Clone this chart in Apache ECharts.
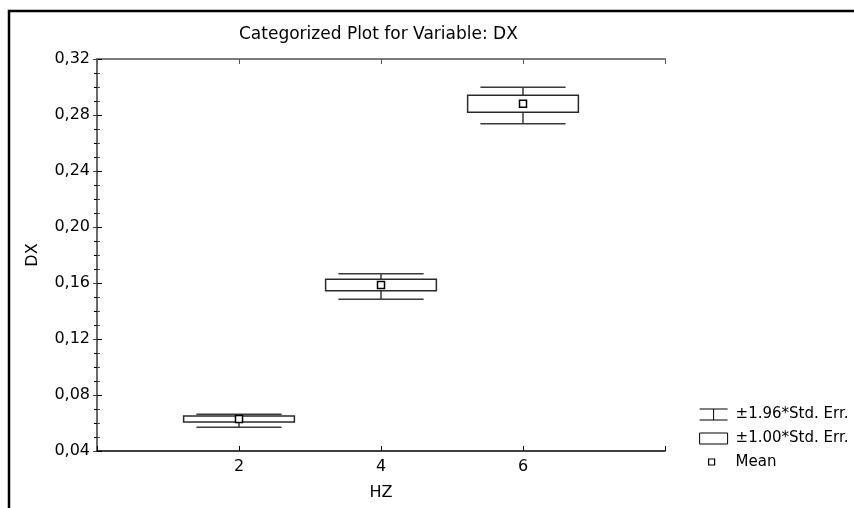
<!DOCTYPE html>
<html>
<head>
<meta charset="utf-8">
<script src="https://cdn.jsdelivr.net/npm/echarts@6/dist/echarts.min.js"></script>
<style>
  html, body { margin: 0; padding: 0; background: #fff; }
  #chart { width: 854px; height: 508px; }
</style>
</head>
<body>
<div id="chart"></div>
<script>
  // values
  var hz = [2, 4, 6];
  var meanDX = [0.0629, 0.1586, 0.2880];
  var se100Low = [0.0607, 0.1545, 0.2819];
  var se100High = [0.0650, 0.1626, 0.2941];
  var se196Low = [0.0569, 0.1484, 0.2738];
  var se196High = [0.0663, 0.1666, 0.2998];
  var yTicks = [0.04, 0.08, 0.12, 0.16, 0.20, 0.24, 0.28, 0.32];
  var xTicks = [2, 4, 6];

  var boxHalf = 0.78;
  var whiskerHalf = 0.6;
  var font = 'DejaVu Sans';

  var chartDom = document.getElementById('chart');
  var myChart = echarts.init(chartDom);

  function fmtY(v) {
    return v.toFixed(2).replace('.', ',');
  }

  function renderWhisker(params, api) {
    var x = api.value(0);
    var lo = api.coord([x, api.value(1)])[1];
    var hi = api.coord([x, api.value(2)])[1];
    var bLo = api.coord([x, api.value(3)])[1];
    var bHi = api.coord([x, api.value(4)])[1];
    var cx = api.coord([x, api.value(1)])[0];
    var l = api.coord([x - whiskerHalf, api.value(1)])[0];
    var r = api.coord([x + whiskerHalf, api.value(1)])[0];
    var st = { stroke: '#3a3a3a', lineWidth: 1.5 };
    return {
      type: 'group',
      children: [
        { type: 'line', shape: { x1: l, y1: hi, x2: r, y2: hi }, style: st },
        { type: 'line', shape: { x1: l, y1: lo, x2: r, y2: lo }, style: st },
        { type: 'line', shape: { x1: cx, y1: hi, x2: cx, y2: bHi }, style: st },
        { type: 'line', shape: { x1: cx, y1: bLo, x2: cx, y2: lo }, style: st }
      ]
    };
  }

  function renderBox(params, api) {
    var x = api.value(0);
    var p1 = api.coord([x - boxHalf, api.value(2)]);
    var p2 = api.coord([x + boxHalf, api.value(1)]);
    return {
      type: 'rect',
      shape: { x: p1[0], y: p1[1], width: p2[0] - p1[0], height: p2[1] - p1[1] },
      style: { fill: '#fff', stroke: '#2a2a2a', lineWidth: 1.5 }
    };
  }

  var whiskerData = hz.map(function (x, i) {
    return [x, se196Low[i], se196High[i], se100Low[i], se100High[i]];
  });
  var boxData = hz.map(function (x, i) {
    return [x, se100Low[i], se100High[i]];
  });
  var meanData = hz.map(function (x, i) {
    return [x, meanDX[i]];
  });

  var option = {
    animation: false,
    backgroundColor: '#fff',
    title: {
      text: 'Categorized Plot for Variable: DX',
      left: 234,
      top: 21,
      textStyle: { fontFamily: font, fontSize: 17, fontWeight: 'normal', color: '#000' }
    },
    graphic: [{
      type: 'rect',
      shape: { x: 9, y: 11, width: 900, height: 600 },
      style: { fill: 'none', stroke: '#000', lineWidth: 2.5 },
      silent: true
    }],
    legend: {
      orient: 'vertical',
      left: 694,
      top: 402,
      itemWidth: 28,
      itemHeight: 11,
      itemGap: 9,
      selectedMode: false,
      textStyle: { fontFamily: font, fontSize: 15, color: '#000', lineHeight: 13, padding: [0, 0, 0, 3] },
      data: [
        {
          name: '±1.96*Std. Err.',
          icon: 'path://M0,0H28M14,0V11M0,11H28',
          itemStyle: { color: '#fff', borderColor: '#000', borderWidth: 1 }
        },
        {
          name: '±1.00*Std. Err.',
          icon: 'path://M0,0H28V11H0Z',
          itemStyle: { color: '#fff', borderColor: '#000', borderWidth: 1 }
        },
        {
          name: 'Mean',
          icon: 'path://M0,0M28,11M9,2H15V8H9Z',
          itemStyle: { color: '#fff', borderColor: '#000', borderWidth: 1.2 }
        }
      ]
    },
    grid: { left: 97, right: 189, top: 59, bottom: 57 },
    xAxis: [
      {
        type: 'value',
        position: 'bottom',
        min: 0,
        max: 8,
        interval: 2,
        name: 'HZ',
        nameLocation: 'middle',
        nameGap: 34,
        nameTextStyle: { fontFamily: font, fontSize: 16, color: '#000' },
        axisLine: { show: true, lineStyle: { color: '#000', width: 1.5 } },
        axisTick: { show: true, inside: true, length: 5, lineStyle: { color: '#000' } },
        axisLabel: {
          margin: 8,
          fontFamily: font, fontSize: 16, color: '#000',
          formatter: function (v) { return xTicks.indexOf(v) >= 0 ? String(v) : ''; }
        },
        splitLine: { show: false }
      },
      {
        type: 'value',
        position: 'top',
        min: 0,
        max: 8,
        interval: 2,
        axisLine: { show: true, lineStyle: { color: '#7a7a7a', width: 2 } },
        axisTick: { show: true, inside: true, length: 5, lineStyle: { color: '#555' } },
        axisLabel: { show: false },
        splitLine: { show: false }
      }
    ],
    yAxis: [
      {
        type: 'value',
        position: 'left',
        min: yTicks[0],
        max: yTicks[yTicks.length - 1],
        interval: 0.04,
        name: 'DX',
        nameLocation: 'middle',
        nameGap: 56,
        nameTextStyle: { fontFamily: font, fontSize: 16, color: '#000' },
        axisLine: { show: true, lineStyle: { color: '#000', width: 1 } },
        axisTick: { show: true, inside: true, length: 5, lineStyle: { color: '#000' } },
        minorTick: { show: true, splitNumber: 4, length: -3, lineStyle: { color: '#000' } },
        axisLabel: { margin: 7, fontFamily: font, fontSize: 16, color: '#000', formatter: fmtY },
        splitLine: { show: false }
      },
      {
        type: 'value',
        position: 'right',
        min: yTicks[0],
        max: yTicks[yTicks.length - 1],
        interval: 0.04,
        axisLine: { show: true, lineStyle: { color: '#6a6a6a', width: 2 } },
        axisTick: { show: true, inside: true, length: 4, lineStyle: { color: '#444' } },
        minorTick: { show: true, splitNumber: 4, length: -3, lineStyle: { color: '#444' } },
        axisLabel: { show: false },
        splitLine: { show: false }
      }
    ],
    series: [
      {
        name: '±1.96*Std. Err.',
        type: 'custom',
        renderItem: renderWhisker,
        encode: { x: 0, y: [1, 2] },
        data: whiskerData,
        z: 2
      },
      {
        name: '±1.00*Std. Err.',
        type: 'custom',
        renderItem: renderBox,
        encode: { x: 0, y: [1, 2] },
        data: boxData,
        z: 3
      },
      {
        name: 'Mean',
        type: 'scatter',
        symbol: 'rect',
        symbolSize: 7,
        itemStyle: { color: '#fff', borderColor: '#000', borderWidth: 1.5, opacity: 1 },
        data: meanData,
        z: 4
      }
    ]
  };

  option && myChart.setOption(option);
</script>
</body>
</html>
